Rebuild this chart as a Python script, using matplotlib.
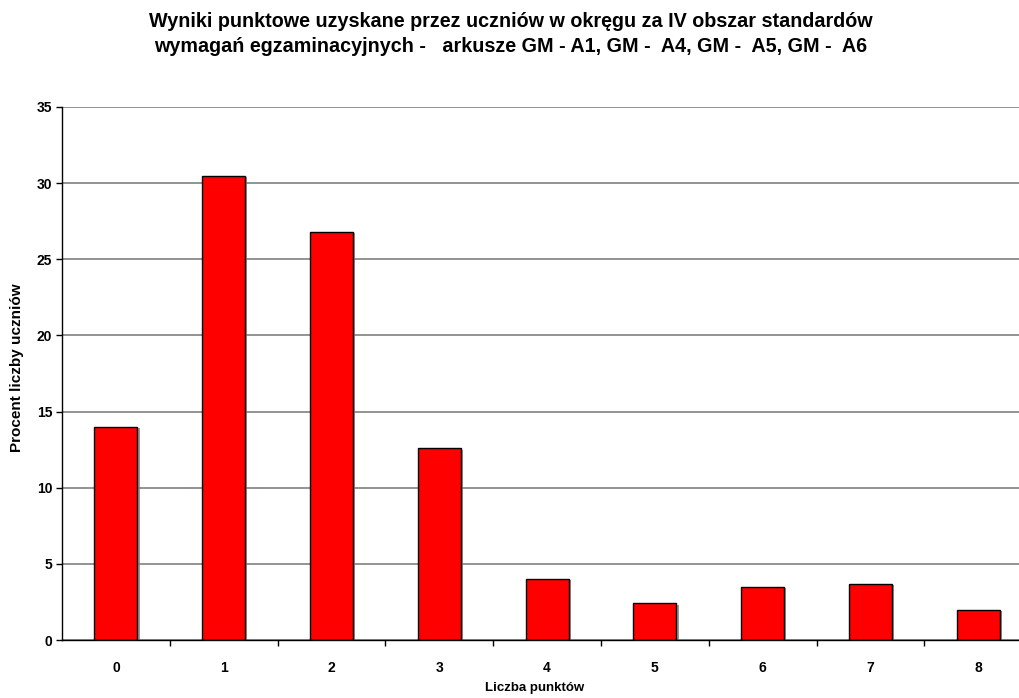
import matplotlib
matplotlib.use("Agg")
import matplotlib.pyplot as plt
from matplotlib import patheffects

plt.rcParams['font.family'] = ['Liberation Sans', 'DejaVu Sans']
plt.rcParams['font.weight'] = 'bold'

points = ["0", "1", "2", "3", "4", "5", "6", "7", "8"]
percent = [14.0, 30.5, 26.8, 12.6, 4.0, 2.4, 3.5, 3.7, 2.0]
y_ticks = [0, 5, 10, 15, 20, 25, 30, 35]

title = ("Wyniki punktowe uzyskane przez uczniów w okręgu za IV obszar standardów\n"
         "wymagań egzaminacyjnych -   arkusze GM - A1, GM -  A4, GM -  A5, GM -  A6")

W, H = 1019, 698
fig = plt.figure(figsize=(W / 100, H / 100), dpi=100)
left, right, top, bottom = 62, 1019, 107, 640
ax = fig.add_axes([left / W, (H - bottom) / H, (right - left) / W, (bottom - top) / H])

x = list(range(len(points)))
bars = ax.bar(x, percent, width=0.40, color="#ff0000", edgecolor="black",
              linewidth=1.0, zorder=3)
for b in bars:
    b.set_path_effects([patheffects.SimplePatchShadow(offset=(1.5, -1.0),
                                                      shadow_rgbFace="#808080", alpha=0.8),
                        patheffects.Normal()])

# category width ~107.8 px; plot area runs off the right edge
ax.set_xlim(-0.5, -0.5 + (right - left) / 107.8)
ax.set_ylim(0, 35)
ax.set_yticks(y_ticks)
ax.set_yticklabels([str(v) for v in y_ticks], fontsize=10, fontweight='bold')
ax.set_xticks(x)
ax.set_xticklabels(points, fontsize=10, fontweight='bold')
ax.tick_params(axis='x', which='major', length=0, pad=15)
ax.set_xticks([i + 0.5 for i in range(8)], minor=True)
ax.tick_params(axis='x', which='minor', length=4, width=1, color='black', direction='out')
ax.tick_params(axis='y', length=4, width=1, color='black', direction='out', pad=3)

ax.yaxis.grid(True, color="#808080", linewidth=1.2, zorder=0)
ax.set_axisbelow(True)
for s in ["top", "right"]:
    ax.spines[s].set_visible(False)
for s in ["left", "bottom"]:
    ax.spines[s].set_color("black")
    ax.spines[s].set_linewidth(1.0)
    ax.spines[s].set_zorder(4)

fig.text(535 / W, 1 - 688 / H, "Liczba punktów", ha='center', va='center',
         fontsize=9.5, fontweight='bold')
fig.text(17 / W, 1 - 368 / H, "Procent liczby uczniów", ha='center', va='center',
         rotation=90, fontsize=11, fontweight='bold')
fig.text(511 / W, 1 - 34 / H, title, ha='center', va='center', fontsize=14.2,
         fontweight='bold', linespacing=1.35)

fig.savefig("out.png", dpi=100, facecolor="white")
